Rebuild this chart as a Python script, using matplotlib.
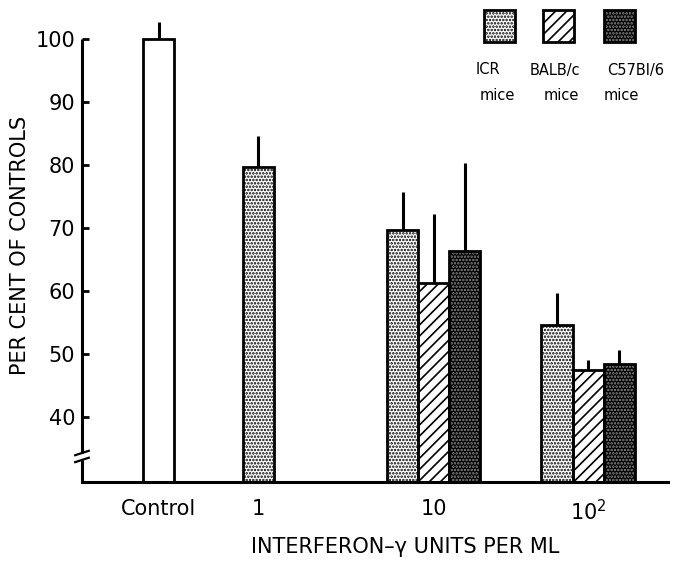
import matplotlib
matplotlib.use("Agg")
import matplotlib.pyplot as plt
from matplotlib.patches import Rectangle

plt.rcParams['font.family'] = ['DejaVu Sans']
plt.rcParams['hatch.linewidth'] = 1.2

# ---- data ----
categories = ["Control", "1", "10", "10$^2$"]
series_strain = ["ICR", "BALB/c", "C57Bl/6"]
series_suffix = ["mice", "mice", "mice"]
control_value = [100.0]
control_err_top = [102.7]
icr_values = [79.7, 69.7, 54.6]
icr_err_top = [84.6, 75.7, 59.7]
balb_values = [61.3, 47.5]
balb_err_top = [72.2, 49.0]
c57_values = [66.3, 48.4]
c57_err_top = [80.3, 50.6]
yticks = [40, 50, 60, 70, 80, 90, 100]

# ---- layout ----
group_x = [2.48, 5.68, 11.35, 16.32]
width = 1.0
ymin, ymax = 29.7, 103.0

styles = {
    "icr": dict(face="#ffffff", hatchc="#000000", hatch="....."),
    "balb": dict(face="#ffffff", hatchc="#000000", hatch="///"),
    "c57": dict(face="#000000", hatchc="#8a8a8a", hatch="....."),
    "ctl": dict(face="#ffffff", hatchc="#ffffff", hatch=None),
}

fig = plt.figure(figsize=(6.74, 5.61), dpi=100)
ax = fig.add_axes([82/674, 1-482/561, (668-82)/674, (482-20)/561])
ax.set_xlim(0, 18.9)
ax.set_ylim(ymin, ymax)

def draw_bar(x, val, top, style):
    s = styles[style]
    ax.bar(x, val - ymin, bottom=ymin, width=width, color=s["face"],
           edgecolor=s["hatchc"], hatch=s["hatch"], linewidth=0, zorder=2)
    ax.bar(x, val - ymin, bottom=ymin, width=width, fill=False,
           edgecolor="black", linewidth=2.0, zorder=3)
    ax.plot([x, x], [val, top], color="black", lw=2.2, zorder=3,
            solid_capstyle="butt")

# control
draw_bar(group_x[0], control_value[0], control_err_top[0], "ctl")
# 1 unit: ICR only
draw_bar(group_x[1], icr_values[0], icr_err_top[0], "icr")
# 10 and 100: three strains
for i, gx in enumerate(group_x[2:]):
    draw_bar(gx - width, icr_values[i + 1], icr_err_top[i + 1], "icr")
    draw_bar(gx, balb_values[i], balb_err_top[i], "balb")
    draw_bar(gx + width, c57_values[i], c57_err_top[i], "c57")

# axes styling
for sp in ["top", "right", "left"]:
    ax.spines[sp].set_visible(False)
ax.spines["bottom"].set_linewidth(2.2)
ax.spines["bottom"].set_zorder(4)

# left axis with break
brk_hi, brk_lo = 34.3, 33.2
ax.plot([0, 0], [brk_hi, 100], color="black", lw=2.2, clip_on=False,
        solid_capstyle="butt")
ax.plot([0, 0], [ymin, brk_lo], color="black", lw=2.2, clip_on=False,
        solid_capstyle="butt")
for yb in (brk_hi, brk_lo):
    ax.plot([-0.22, 0.22], [yb - 0.35, yb + 0.35], color="black", lw=1.6,
            clip_on=False)

ax.set_yticks(yticks)
ax.set_yticklabels([str(t) for t in yticks], fontsize=15)
ax.tick_params(axis="y", direction="in", length=5, width=2.0, pad=5)
ax.set_xticks(group_x)
ax.set_xticklabels(categories, fontsize=15)
ax.tick_params(axis="x", length=0, pad=12)
ax.set_ylabel("PER CENT OF CONTROLS", fontsize=15)
ax.yaxis.set_label_coords((30-82)/586, (482-245)/462)
ax.set_xlabel("INTERFERON\u2013\u03b3 UNITS PER ML", fontsize=15)
ax.xaxis.set_label_coords((405-82)/586, -(537-482)/462)

# legend (manual)
leg_x = [484, 543, 604]
name_x = [488, 555, 636]
suffix_x = [497, 561, 621]
keys = ["icr", "balb", "c57"]
for lx, k, nm, sf, nx, sx in zip(leg_x, keys, series_strain, series_suffix,
                                 name_x, suffix_x):
    s = styles[k]
    x0, y0 = lx/674, 1-42/561
    w, h = 31/674, 32/561
    fig.add_artist(Rectangle((x0, y0), w, h, transform=fig.transFigure,
                             facecolor=s["face"], edgecolor=s["hatchc"],
                             hatch=s["hatch"], linewidth=0))
    fig.add_artist(Rectangle((x0, y0), w, h, transform=fig.transFigure,
                             fill=False, edgecolor="black", linewidth=2.0))
    fig.text(nx/674, 1-70/561, nm, ha="center", va="center", fontsize=10.5)
    fig.text(sx/674, 1-95/561, sf, ha="center", va="center", fontsize=10.5)

fig.savefig("out.png", dpi=100)
